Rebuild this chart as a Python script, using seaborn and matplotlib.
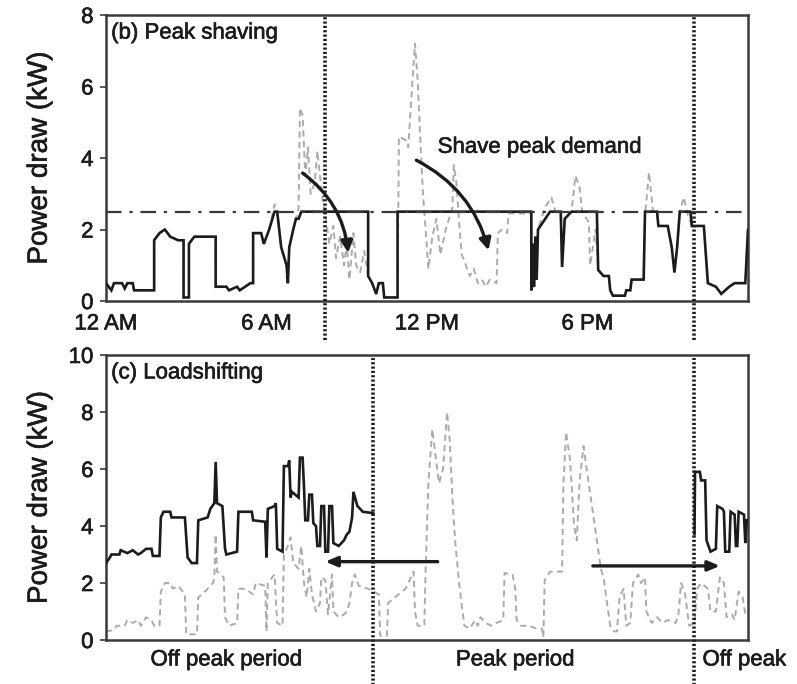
import matplotlib
matplotlib.use("Agg")
import matplotlib.pyplot as plt
import matplotlib.transforms as mtransforms
import matplotlib.patheffects as pe
import pandas as pd
import seaborn as sns

# ---------------- data (hours of the day, power in kW) ----------------
# (b) peak shaving: original household load
ps_orig_h = [0.0, 0.2, 0.3, 0.6, 0.7, 0.8, 1.0, 1.05, 1.8, 1.8, 2.0, 2.2, 2.4, 2.7, 2.9, 2.9, 3.1, 3.1,
             3.3, 4.1, 4.1, 4.5, 4.6, 4.9, 5.0, 5.4, 5.5, 5.5, 5.8, 5.9, 6.1, 6.3, 6.4, 6.55, 6.75, 6.8,
             6.85, 7.0, 7.1, 7.2, 7.25, 7.35, 7.45, 7.55, 7.65, 7.8, 7.9, 8.0, 8.1, 8.2, 8.35, 8.5, 8.6,
             8.75, 8.9, 9.0, 9.1, 9.25, 9.35, 9.5, 9.65, 9.8, 9.95, 10.1, 10.2, 10.35, 10.4, 10.9, 10.95,
             11.2, 11.3, 11.4, 11.55, 11.65, 11.75, 11.85, 11.95, 12.05, 12.2, 12.35, 12.5, 12.7, 12.95,
             13.0, 13.1, 13.2, 13.3, 13.45, 13.6, 13.75, 13.9, 14.05, 14.2, 14.35, 14.6, 14.65, 14.8,
             15.0, 15.05, 15.9, 15.9, 15.95, 16.0, 16.05, 16.1, 16.15, 16.4, 16.65, 16.8, 17.0, 17.05,
             17.15, 17.4, 17.55, 17.7, 17.8, 18.05, 18.1, 18.2, 18.3, 18.4, 18.6, 18.8, 18.85, 18.95,
             19.4, 19.45, 19.6, 19.65, 20.1, 20.15, 20.3, 20.45, 20.6, 20.65, 21.0, 21.15, 21.25, 21.35,
             21.45, 21.6, 21.75, 21.9, 22.35, 22.5, 22.8, 23.0, 23.3, 23.5, 23.9, 24.0]
ps_orig_kw = [0.5, 0.3, 0.5, 0.5, 0.35, 0.5, 0.5, 0.3, 0.3, 1.7, 1.9, 2.0, 1.8, 1.7, 1.7, 0.1, 0.1, 1.6,
              1.8, 1.8, 0.4, 0.4, 0.3, 0.4, 0.3, 0.5, 0.5, 1.9, 1.9, 1.6, 2.0, 2.7, 2.5, 1.5, 1.0, 0.5,
              1.5, 2.0, 2.3, 2.6, 5.4, 5.2, 3.5, 4.3, 3.0, 3.3, 4.2, 3.5, 2.8, 2.4, 1.6, 2.1, 1.2,
              1.8, 1.0, 1.6, 0.6, 1.9, 1.0, 0.8, 1.4, 0.7, 0.5, 0.2, 0.5, 0.5, 0.1, 0.1, 4.6,
              4.5, 4.3, 5.5, 7.2, 6.2, 4.5, 3.0, 2.0, 0.9, 1.8, 2.3, 1.3, 2.0, 2.6,
              3.8, 3.3, 2.2, 1.3, 1.0, 0.7, 0.9, 0.5, 0.6, 0.4, 0.6, 0.5, 1.9, 2.0,
              1.9, 2.45, 2.45, 0.3, 1.6, 0.4, 1.8, 0.6, 2.0, 2.6, 2.9, 2.5, 2.4, 0.95,
              2.3, 2.5, 3.5, 3.2, 2.5, 2.2, 1.0, 1.5, 2.0, 0.87, 0.7, 0.7, 0.3, 0.15,
              0.15, 0.3, 0.3, 0.6, 0.6, 2.4, 3.6, 2.5, 2.5, 2.1, 2.1, 1.5, 0.8, 1.5,
              2.5, 2.9, 2.4, 2.1, 2.1, 0.5, 0.4, 0.2, 0.4, 0.5, 0.5, 2.0]

# (b) peak shaving: load drawn from the grid with the battery
ps_new_h = [0.0, 0.2, 0.3, 0.6, 0.7, 0.8, 1.0, 1.05, 1.8, 1.8, 2.0, 2.2, 2.4, 2.7, 2.9, 2.9, 3.1, 3.1,
            3.3, 4.1, 4.1, 4.5, 4.6, 4.9, 5.0, 5.4, 5.5, 5.5, 5.8, 5.9, 6.1, 6.3, 6.4, 6.55, 6.75, 6.8,
            6.85, 7.0, 7.1, 7.2, 7.3, 9.8, 9.8, 9.95, 10.1, 10.2, 10.35, 10.4, 10.9, 10.9, 15.9, 15.9,
            15.95, 16.0, 16.05, 16.1, 16.15, 16.6, 17.0, 17.05, 17.15, 17.4, 18.35, 18.4, 18.6, 18.8,
            18.85, 18.95, 19.4, 19.45, 19.6, 19.65, 20.1, 20.15, 20.6, 20.65, 21.0, 21.15, 21.25,
            21.35, 21.45, 21.85, 21.9, 22.35, 22.5, 22.8, 23.0, 23.3, 23.5, 23.9, 24.0]
ps_new_kw = [0.5, 0.3, 0.5, 0.5, 0.35, 0.5, 0.5, 0.3, 0.3, 1.7, 1.9, 2.0, 1.8, 1.7, 1.7, 0.1, 0.1, 1.6,
             1.8, 1.8, 0.4, 0.4, 0.3, 0.4, 0.3, 0.5, 0.5, 1.9, 1.9, 1.6, 2.0, 2.5, 2.5, 1.5, 1.0, 0.5,
             1.5, 2.0, 2.3, 2.3, 2.5, 2.5, 0.7, 0.5, 0.2, 0.5, 0.5, 0.1, 0.1, 2.5, 2.5, 0.3,
             1.6, 0.4, 1.8, 0.6, 2.0, 2.5, 2.5, 0.95, 2.3, 2.5, 2.5, 0.87, 0.7, 0.7,
             0.3, 0.15, 0.15, 0.3, 0.3, 0.6, 0.6, 2.5, 2.5, 2.1, 2.1, 1.5, 0.8,
             1.5, 2.5, 2.5, 2.1, 2.1, 0.5, 0.4, 0.2, 0.4, 0.5, 0.5, 2.0]

peak_limit_kw = 2.5

# (c) load shifting: original household load
ls_orig_h = [0.0, 0.3, 0.4, 0.7, 0.8, 1.0, 1.2, 1.3, 1.5, 1.7, 1.8, 2.0, 2.05, 2.2, 2.4, 2.5, 2.7, 2.95,
             3.0, 3.4, 3.45, 3.6, 3.8, 4.0, 4.05, 4.1, 4.15, 4.4, 4.45, 4.6, 4.9, 4.95, 5.2, 5.5, 5.6,
             5.95, 6.0, 6.05, 6.3, 6.4, 6.6, 6.65, 6.8, 6.9, 7.0, 7.2, 7.3, 7.4, 7.5, 7.6, 7.7, 7.85,
             8.0, 8.05, 8.2, 8.3, 8.45, 8.5, 8.7, 8.9, 9.0, 9.1, 9.2, 9.3, 9.45, 9.8, 10.0, 10.2,
             10.25, 10.5, 10.55, 10.8, 11.2, 11.5, 11.55, 11.65, 11.9, 11.95, 12.05, 12.2, 12.3, 12.45,
             12.6, 12.75, 12.85, 12.95, 13.05, 13.2, 13.3, 13.4, 13.6, 13.8, 13.9, 14.0, 14.2, 14.4,
             14.6, 14.85, 14.9, 15.2, 15.3, 15.35, 15.5, 15.8, 16.1, 16.3, 16.35, 16.4, 16.6, 17.0,
             17.05, 17.1, 17.2, 17.35, 17.5, 17.6, 17.7, 17.85, 18.0, 18.2, 18.35, 18.5, 18.6, 18.7,
             18.85, 19.0, 19.1, 19.2, 19.35, 19.45, 19.6, 19.7, 19.9, 20.0, 20.15, 20.2, 20.4, 20.6,
             20.8, 21.0, 21.3, 21.4, 21.5, 21.65, 21.8, 22.0, 22.1, 22.25, 22.5, 22.6, 22.8, 22.95,
             23.1, 23.2, 23.4, 23.5, 23.65, 23.8, 23.9, 24.0]
ls_orig_kw = [0.3, 0.35, 0.5, 0.5, 0.7, 0.6, 0.7, 0.5, 0.8, 0.7, 0.5, 0.5, 1.7, 2.0, 2.0, 1.8, 1.9, 1.6,
              0.2, 0.2, 1.5, 1.6, 1.8, 2.0, 2.2, 3.7, 2.4, 2.2, 0.8, 0.5, 0.6, 1.8, 1.8, 1.6, 2.0,
              1.9, 0.3, 2.0, 2.3, 0.6, 0.5, 3.0, 3.3, 3.6, 2.7, 2.5, 3.3, 2.0, 1.5, 2.5, 1.6, 1.0,
              1.3, 2.2, 2.1, 0.9, 2.3, 1.0, 0.8, 0.9, 1.0, 1.3, 2.0, 2.3, 1.9, 1.8, 1.7, 1.6,
              0.15, 0.15, 1.3, 1.5, 1.8, 2.4, 1.0, 0.5, 0.5, 2.5, 5.5, 7.4, 6.6, 5.5,
              6.0, 8.0, 7.0, 5.0, 3.5, 2.0, 1.2, 0.5, 0.4, 0.7, 0.5, 0.8, 0.6, 0.5,
              0.6, 0.7, 2.35, 2.3, 1.8, 0.7, 0.5, 0.5, 0.4, 0.4, 0.1, 2.1, 2.4, 2.4,
              2.4, 5.5, 7.3, 6.3, 4.0, 3.5, 5.5, 6.8, 5.8, 4.5, 3.5, 2.5, 2.2, 1.5,
              0.5, 0.3, 0.3, 1.5, 1.8, 0.5, 0.6, 2.0, 2.3, 2.0, 2.2, 1.0, 0.6, 0.8,
              0.6, 0.7, 0.6, 0.9, 2.0, 1.6, 0.5, 0.6, 1.8, 2.0, 1.8, 1.0, 1.0, 2.2,
              2.0, 0.8, 0.9, 0.7, 1.7, 1.5, 0.9, 1.0]

# (c) load shifting: load moved into the off-peak periods
ls_am_h = [0.0, 0.15, 0.2, 0.5, 0.55, 0.8, 1.0, 1.2, 1.3, 1.5, 1.7, 1.75, 2.0, 2.05, 2.15, 2.4, 2.45,
           2.95, 3.05, 3.2, 3.4, 3.45, 3.8, 3.9, 4.05, 4.1, 4.15, 4.35, 4.45, 4.5, 4.9, 4.95, 5.45,
           5.5, 5.95, 6.0, 6.05, 6.3, 6.35, 6.4, 6.6, 6.65, 6.8, 6.85, 6.9, 6.95, 7.2, 7.25, 7.35,
           7.4, 7.45, 7.55, 7.6, 7.7, 7.75, 7.85, 7.9, 8.0, 8.05, 8.15, 8.2, 8.3, 8.35, 8.45, 8.5,
           8.7, 8.9, 9.0, 9.1, 9.2, 9.25, 9.4, 9.6, 10.0]
ls_am_kw = [2.7, 2.9, 3.0, 3.0, 3.15, 3.05, 3.15, 3.0, 3.05, 3.2, 3.2, 2.95, 2.95, 4.3, 4.5, 4.5, 4.3,
            4.3, 2.9, 2.7, 2.7, 4.2, 4.3, 4.6, 4.8, 6.25, 4.8, 4.7, 3.2, 3.0, 3.1, 4.5, 4.5,
            4.2, 4.15, 2.9, 4.6, 4.7, 4.8, 3.2, 3.1, 6.1, 6.1, 6.3, 5.0, 5.2, 5.0, 6.4, 6.4,
            5.4, 4.2, 4.2, 5.1, 5.1, 4.1, 4.0, 3.3, 3.3, 4.7, 4.7, 3.1, 3.1, 4.7, 4.7, 3.4,
            3.3, 3.5, 3.7, 3.8, 4.3, 5.2, 4.7, 4.5, 4.45]

ls_pm_h = [22.0, 22.02, 22.2, 22.25, 22.4, 22.45, 22.6, 22.8, 22.85, 23.05, 23.1, 23.15, 23.3, 23.35,
           23.5, 23.55, 23.6, 23.65, 23.85, 23.9, 23.95, 24.0]
ls_pm_kw = [3.7, 5.9, 5.9, 5.6, 5.6, 3.5, 3.1, 3.2, 4.7, 4.6, 4.5, 3.1, 3.1, 4.5,
            4.4, 3.3, 3.3, 4.5, 4.4, 3.4, 4.2, 4.2]

ps_window_h = [8.2, 22.0]          # battery window, peak shaving
ls_window_h = [10.0, 22.0]         # peak tariff window, load shifting
hour_ticks = [0, 6, 12, 18]
hour_labels = ["12 AM", "6 AM", "12 PM", "6 PM"]
period_labels = ["Off peak period", "Peak period", "Off peak"]

# ---------------- styling ----------------
sns.set_style("ticks")
plt.rcParams["font.family"] = ["Liberation Sans", "DejaVu Sans"]
INK = "#1c1c1c"
GREY = "#ababab"
SPINE = "#3a3a3a"
HEAVY = [pe.withStroke(linewidth=0.45, foreground=INK)]

fig = plt.figure(figsize=(7.97, 6.84), dpi=100)
ax_b = fig.add_axes([0.133, 0.5599, 0.8055, 0.4181])
ax_c = fig.add_axes([0.133, 0.0643, 0.8055, 0.4167])


def trace(ax, hours, kw, color, lw, dashed=False, z=2):
    df = pd.DataFrame({"hour": hours, "kW": kw})
    n0 = len(ax.lines)
    sns.lineplot(data=df, x="hour", y="kW", ax=ax, estimator=None, sort=False,
                 color=color, linewidth=lw, zorder=z)
    line = ax.lines[n0]
    if dashed:
        line.set_dashes((3.2, 2.2))
    line.set_solid_joinstyle("miter")


# ---- (b) peak shaving ----
trace(ax_b, ps_orig_h, ps_orig_kw, GREY, 1.4, dashed=True, z=2)
trace(ax_b, ps_new_h, ps_new_kw, INK, 1.9, z=3)
ax_b.axhline(peak_limit_kw, color=SPINE, lw=1.6, dashes=(7, 3.5, 1.5, 3.5), zorder=4)
ax_b.set_ylim(0, 8)
ax_b.set_yticks([0, 2, 4, 6, 8])
ax_b.set_xticks(hour_ticks)
ax_b.set_xticklabels(hour_labels)
ax_b.tick_params(axis="x", length=0, labelsize=16, labelcolor=INK, pad=9)
for h in ps_window_h:
    ax_b.axvline(h, ymin=-0.136, ymax=1.0, color=INK, lw=2.6, ls=(0, (0.6, 0.6)),
                 clip_on=False, zorder=5)
ax_b.text(0.008, 0.937, "(b) Peak shaving", transform=ax_b.transAxes,
          fontsize=16, color=INK, ha="left", va="center", path_effects=HEAVY)
ax_b.text(12.4, 4.3, "Shave peak demand", fontsize=16, color=INK, ha="left", va="center",
          path_effects=HEAVY)
for start, end in [((7.35, 3.58), (9.05, 1.35)), ((11.6, 3.94), (14.3, 1.42))]:
    ax_b.annotate("", xy=end, xytext=start,
                  arrowprops=dict(arrowstyle="-|>,head_length=0.7,head_width=0.35",
                                  connectionstyle="arc3,rad=-0.22",
                                  color=INK, lw=2.4, shrinkA=0, shrinkB=0),
                  zorder=6)

# ---- (c) load shifting ----
trace(ax_c, ls_orig_h, ls_orig_kw, GREY, 1.4, dashed=True, z=2)
trace(ax_c, ls_am_h, ls_am_kw, INK, 1.9, z=3)
trace(ax_c, ls_pm_h, ls_pm_kw, INK, 1.9, z=3)
ax_c.set_ylim(0, 10)
ax_c.set_yticks([0, 2, 4, 6, 8, 10])
ax_c.set_xticks([])
for h in ls_window_h:
    ax_c.axvline(h, ymin=-0.16, ymax=0.99, color=INK, lw=2.6, ls=(0, (0.6, 0.6)),
                 clip_on=False, zorder=5)
ax_c.text(0.008, 0.937, "(c) Loadshifting", transform=ax_c.transAxes,
          fontsize=16, color=INK, ha="left", va="center", path_effects=HEAVY)
for start, end in [((12.4, 2.75), (8.2, 2.75)), ((18.2, 2.6), (22.95, 2.6))]:
    ax_c.annotate("", xy=end, xytext=start,
                  arrowprops=dict(arrowstyle="-|>,head_length=0.7,head_width=0.3",
                                  color=INK, lw=2.4, shrinkA=0, shrinkB=0),
                  zorder=6)

blend = mtransforms.blended_transform_factory(ax_c.transData, ax_c.transAxes)
for xh, label, ha in [(4.5, period_labels[0], "center"), (15.3, period_labels[1], "center"),
                      (22.3, period_labels[2], "left")]:
    ax_c.text(xh, -0.07, label, transform=blend, fontsize=16, color=INK,
              ha=ha, va="center", clip_on=False, path_effects=HEAVY)

# shared axis cosmetics (after seaborn has set its own axis labels)
for ax in (ax_b, ax_c):
    ax.set_xlim(0, 24)
    ax.set_xlabel("")
    for s in ax.spines.values():
        s.set_visible(True)
        s.set_color(SPINE)
        s.set_linewidth(1.8)
    ax.tick_params(axis="y", which="major", length=4, width=1.2, color=SPINE,
                   labelsize=16, labelcolor=INK, pad=5)
    ax.set_ylabel("Power draw (kW)", fontsize=20, color=INK, path_effects=HEAVY)
    ax.yaxis.set_label_coords(-0.083, 0.5)
    for lab in ax.get_xticklabels() + ax.get_yticklabels():
        lab.set_path_effects(HEAVY)

fig.savefig("out.png", dpi=100, facecolor="white")
